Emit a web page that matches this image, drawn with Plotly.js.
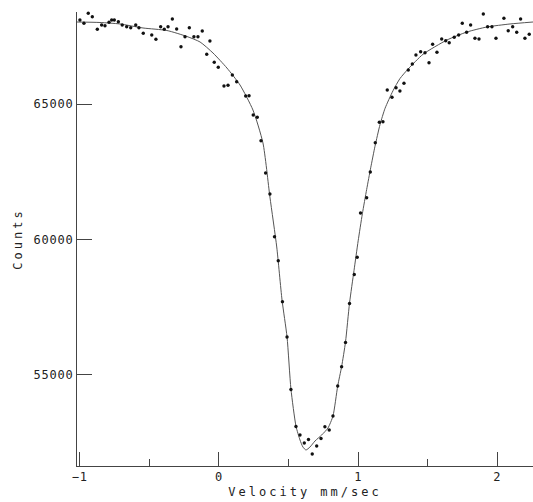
<!DOCTYPE html>
<html>
<head>
<meta charset="utf-8">
<script src="https://cdn.plot.ly/plotly-3.0.1.min.js"></script>
<style>
  html, body { margin: 0; padding: 0; background: #fff; }
  #chart { width: 533px; height: 502px; }
  .xtitle, .ytitle { letter-spacing: 3px; }
  .xtick text, .ytick text { letter-spacing: 0.8px; }
</style>
</head>
<body>
<div id="chart"></div>
<script>
// Measured points (velocity in mm/sec, counts)
const velocity = [
  -1.022, -0.999, -0.970, -0.939, -0.910, -0.874, -0.843, -0.819, -0.790, -0.771,
  -0.752, -0.723, -0.695, -0.663, -0.634, -0.598, -0.575, -0.544, -0.483, -0.453,
  -0.419, -0.393, -0.366, -0.335, -0.304, -0.273, -0.244, -0.213, -0.180, -0.151,
  -0.120, -0.088, -0.065, -0.034, -0.005, 0.036, 0.065, 0.096, 0.127, 0.192,
  0.216, 0.246, 0.275, 0.302, 0.335, 0.366, 0.399, 0.426, 0.456, 0.489,
  0.517, 0.553, 0.582, 0.613, 0.643, 0.670, 0.702, 0.733, 0.761, 0.792,
  0.819, 0.853, 0.881, 0.909, 0.938, 0.972, 0.993, 1.017, 1.061, 1.087,
  1.123, 1.152, 1.178, 1.209, 1.243, 1.272, 1.300, 1.329, 1.360, 1.389,
  1.415, 1.449, 1.480, 1.509, 1.535, 1.566, 1.600, 1.629, 1.654, 1.690,
  1.722, 1.748, 1.779, 1.808, 1.839, 1.868, 1.899, 1.930, 1.961, 1.990,
  2.019, 2.047, 2.078, 2.110, 2.139, 2.167, 2.198, 2.229
];
const counts = [
  67655, 68117, 67995, 68365, 68239, 67774, 67933, 67907, 68032, 68117,
  68117, 68055, 67933, 67870, 67833, 67933, 67833, 67626, 67563, 67404,
  67870, 67774, 67870, 68154, 67785, 67130, 67500, 67833, 67500, 67500,
  67711, 66849, 67341, 66553, 66368, 65677, 65703, 66083, 65836, 65307,
  65318, 64604, 64519, 63654, 62460, 61683, 60104, 59216, 57700, 56395,
  54453, 53085, 52771, 52475, 52604, 52068, 52364, 52641, 53078, 52956,
  53473, 54583, 55297, 56191, 57634, 58706, 59342, 60980, 61546, 62496,
  63580, 64334, 64357, 65529, 65259, 65614, 65492, 65777, 66268, 66490,
  66823, 66945, 66908, 66538, 67219, 66923, 67415, 67352, 67278, 67478,
  67563, 67995, 67663, 67933, 67441, 67415, 68339, 67870, 67870, 67441,
  68424, 68180, 67722, 67870, 67663, 68154, 67441, 67589
];

// Fitted curve
const fitVelocity = [
  -1.020, -0.855, -0.711, -0.546, -0.374, -0.230, -0.136, -0.043, 0.057, 0.151,
  0.244, 0.316, 0.366, 0.415, 0.453, 0.489, 0.517, 0.553, 0.582, 0.603,
  0.625, 0.654, 0.690, 0.738, 0.783, 0.819, 0.853, 0.881, 0.909, 0.938,
  0.970, 1.000, 1.030, 1.061, 1.090, 1.121, 1.157, 1.193, 1.250, 1.300,
  1.358, 1.466, 1.638, 1.782, 1.925, 2.091, 2.256
];
const fitCounts = [
  68043, 68025, 67970, 67822, 67729, 67507, 67304, 66897, 66342, 65714,
  64789, 63569, 61572, 59723, 57763, 56395, 54472, 53104, 52586, 52327,
  52216, 52327, 52549, 52771, 53030, 53473, 54583, 55297, 56210, 57652,
  58850, 59950, 60950, 61850, 62650, 63450, 64250, 64850, 65500, 65950,
  66300, 66850, 67378, 67674, 67859, 67970, 68043
];

const xTicks = [-1, 0, 1, 2];
const xMinorTicks = [-0.5, 0.5, 1.5];
const yTicks = [55000, 60000, 65000];
const yTickLabels = ['55000', '60000', '65000'];

const FONT = 'DejaVu Sans Mono, monospace';
const INK = '#222';

const traces = [
  {
    type: 'scatter', mode: 'lines',
    x: fitVelocity, y: fitCounts,
    line: {color: '#555', width: 1, shape: 'spline', smoothing: 0.6},
    hoverinfo: 'skip'
  },
  {
    type: 'scatter', mode: 'markers',
    x: velocity, y: counts,
    marker: {color: '#111', size: 3.4, symbol: 'circle'},
    cliponaxis: false
  }
];

const layout = {
  width: 533, height: 502,
  margin: {l: 77, r: 0, t: 12, b: 36, pad: 0},
  paper_bgcolor: '#fff', plot_bgcolor: '#fff',
  showlegend: false,
  font: {family: FONT, color: INK, size: 12},
  xaxis: {
    range: [-1.02, 2.256],
    showgrid: false, zeroline: false,
    showline: true, linecolor: '#444', linewidth: 1,
    ticks: 'inside', tickvals: xTicks, ticklen: 14, tickwidth: 1, tickcolor: '#444',
    minor: {tickvals: xMinorTicks, ticks: 'inside', ticklen: 7, tickwidth: 1, tickcolor: '#444', showgrid: false},
    tickfont: {family: FONT, size: 12, color: INK},
    title: {text: 'Velocity mm/sec', font: {family: FONT, size: 12, color: INK}, standoff: 4}
  },
  yaxis: {
    range: [51624, 68413],
    showgrid: false, zeroline: false,
    showline: true, linecolor: '#444', linewidth: 1,
    ticks: 'inside', tickvals: yTicks, ticktext: yTickLabels, ticklen: 15, tickwidth: 1, tickcolor: '#444',
    tickfont: {family: FONT, size: 12, color: INK},
    title: {text: 'Counts', font: {family: FONT, size: 12, color: INK}, standoff: 8}
  }
};

Plotly.newPlot('chart', traces, layout, {displayModeBar: false, staticPlot: true});
</script>
</body>
</html>
